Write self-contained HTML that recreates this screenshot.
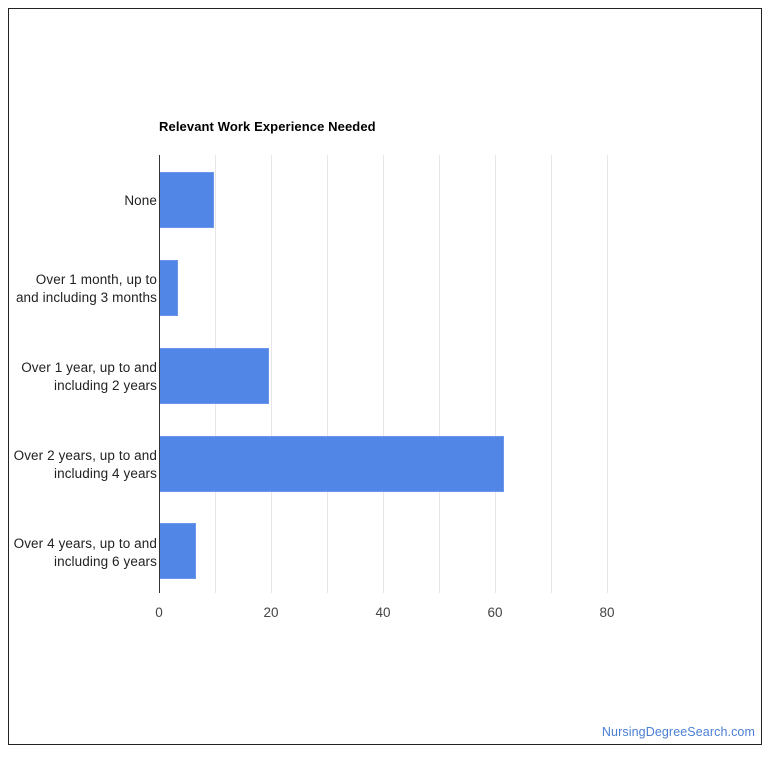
<!DOCTYPE html>
<html><head><style>
body{margin:0;background:#fff;}
svg text{font-family:"Liberation Sans",Roboto,sans-serif;}
</style></head><body>
<svg width="770" height="754" xmlns="http://www.w3.org/2000/svg">
<rect x="8.5" y="8.5" width="753" height="736" fill="#fff" stroke="#222" stroke-width="1"/>
<text x="159" y="131" font-size="13" font-weight="bold" fill="#000" letter-spacing="0.1">Relevant Work Experience Needed</text>
<g stroke="#e6e6e6" stroke-width="1">
<line x1="215.5" y1="155" x2="215.5" y2="593"/>
<line x1="271.5" y1="155" x2="271.5" y2="593"/>
<line x1="327.5" y1="155" x2="327.5" y2="593"/>
<line x1="383.5" y1="155" x2="383.5" y2="593"/>
<line x1="439.5" y1="155" x2="439.5" y2="593"/>
<line x1="495.5" y1="155" x2="495.5" y2="593"/>
<line x1="551.5" y1="155" x2="551.5" y2="593"/>
<line x1="607.5" y1="155" x2="607.5" y2="593"/>
</g>
<g fill="#5185e6" stroke="#6b97ea" stroke-width="1">
<rect x="159.5" y="172.5" width="54" height="55"/>
<rect x="159.5" y="260.5" width="18" height="55"/>
<rect x="159.5" y="348.5" width="109" height="55"/>
<rect x="159.5" y="436.5" width="344" height="55"/>
<rect x="159.5" y="523.5" width="36" height="55"/>
</g>
<line x1="159.5" y1="155" x2="159.5" y2="593" stroke="#333" stroke-width="1"/>
<g font-size="13.5" fill="#222" text-anchor="end" letter-spacing="0.1">
<text x="157" y="205">None</text>
<text x="157" y="284">Over 1 month, up to</text>
<text x="157" y="302">and including 3 months</text>
<text x="157" y="372">Over 1 year, up to and</text>
<text x="157" y="390">including 2 years</text>
<text x="157" y="460">Over 2 years, up to and</text>
<text x="157" y="478">including 4 years</text>
<text x="157" y="548">Over 4 years, up to and</text>
<text x="157" y="566">including 6 years</text>
</g>
<g font-size="13.5" fill="#444" text-anchor="middle">
<text x="159" y="617">0</text>
<text x="271" y="617">20</text>
<text x="383" y="617">40</text>
<text x="495" y="617">60</text>
<text x="607" y="617">80</text>
</g>
<text x="755" y="736" font-size="12.5" fill="#4a7fd6" text-anchor="end" letter-spacing="0.1">NursingDegreeSearch.com</text>
</svg>
</body></html>
